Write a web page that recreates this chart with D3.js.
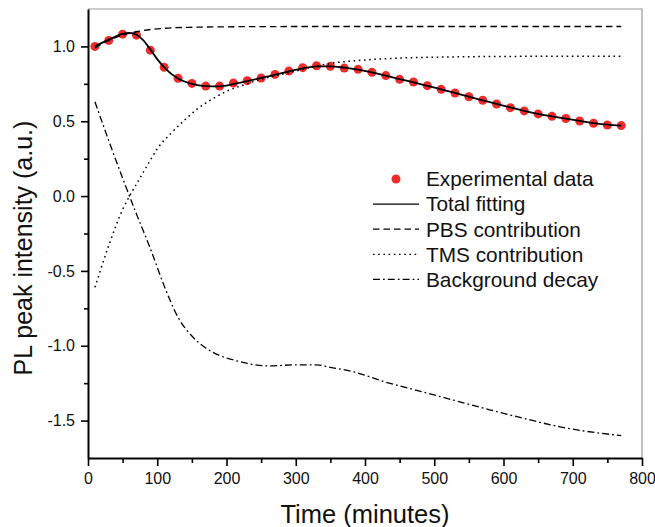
<!DOCTYPE html>
<html>
<head>
<meta charset="utf-8">
<script src="https://cdn.jsdelivr.net/npm/d3@7"></script>
<style>
  html, body { margin: 0; padding: 0; background: #fff; }
  svg { display: block; font-family: "Liberation Sans", Arial, sans-serif; }
</style>
</head>
<body>
<svg id="chart" width="655" height="527"></svg>
<script>
// experimental points
const expTime = [10, 30, 50, 70, 90, 110, 130, 150, 170, 190, 210, 230, 250, 270, 290, 310, 330, 350, 370, 390,
                 410, 430, 450, 470, 490, 510, 530, 550, 570, 590, 610, 630, 650, 670, 690, 710, 730, 750, 770];
const expIntensity = [1.00, 1.04, 1.082, 1.075, 0.975, 0.86, 0.787, 0.753, 0.735, 0.735, 0.755, 0.771, 0.789, 0.813,
                      0.835, 0.858, 0.871, 0.867, 0.855, 0.847, 0.827, 0.805, 0.78, 0.762, 0.738, 0.713, 0.689, 0.664,
                      0.64, 0.615, 0.591, 0.569, 0.549, 0.533, 0.518, 0.502, 0.487, 0.475, 0.471];

// total fitting
const fitTime = [10, 30, 50, 60, 70, 80, 90, 100, 110, 130, 150, 170, 190, 210, 230, 250, 270, 290, 310, 330, 350, 370,
                 390, 410, 430, 450, 470, 490, 510, 530, 550, 570, 590, 610, 630, 650, 670, 690, 710, 730, 750, 770];
const fitValues = [1.0, 1.045, 1.083, 1.09, 1.078, 1.04, 0.98, 0.915, 0.86, 0.785, 0.75, 0.735, 0.733, 0.748, 0.768,
                   0.789, 0.811, 0.833, 0.853, 0.866, 0.867, 0.858, 0.845, 0.827, 0.805, 0.782, 0.76, 0.737, 0.713,
                   0.689, 0.664, 0.64, 0.616, 0.592, 0.57, 0.55, 0.533, 0.517, 0.502, 0.488, 0.477, 0.471];

// PBS contribution
const pbsTime = [10, 30, 50, 70, 90, 110, 150, 200, 300, 770];
const pbsValues = [0.99, 1.04, 1.075, 1.098, 1.113, 1.121, 1.128, 1.131, 1.133, 1.133];

// TMS contribution
const tmsTime = [10, 30, 50, 60, 70, 80, 90, 100, 120, 140, 160, 180, 200, 220, 250, 300, 335, 360, 380, 430, 530, 650, 770];
const tmsValues = [-0.61, -0.33, -0.09, 0.0, 0.08, 0.16, 0.24, 0.315, 0.42, 0.51, 0.59, 0.65, 0.70, 0.735, 0.78,
                   0.835, 0.873, 0.893, 0.902, 0.918, 0.93, 0.934, 0.935];

// background decay
const bgTime = [10, 30, 50, 70, 90, 110, 130, 150, 170, 190, 210, 230, 260, 300, 330, 350, 380, 430, 480, 530, 580,
                630, 680, 720, 770];
const bgValues = [0.63, 0.37, 0.12, -0.12, -0.35, -0.6, -0.81, -0.935, -1.015, -1.065, -1.095, -1.118, -1.135, -1.128,
                  -1.128, -1.145, -1.17, -1.243, -1.305, -1.366, -1.428, -1.486, -1.54, -1.572, -1.6];

const xMajor = [0, 100, 200, 300, 400, 500, 600, 700, 800];
const xMinor = [50, 150, 250, 350, 450, 550, 650, 750];
const yMajor = [-1.5, -1.0, -0.5, 0.0, 0.5, 1.0];
const yMinor = [-1.25, -0.75, -0.25, 0.25, 0.75];

const legendLabels = ['Experimental data', 'Total fitting', 'PBS contribution', 'TMS contribution', 'Background decay'];
const lineDash = [null, null, '6.5,4', '1.6,3.6', '7,3,1.8,3'];

const svg = d3.select('#chart');
const margin = { top: 9, right: 13, bottom: 69, left: 88 };
const W = 655, H = 527;

const x = d3.scaleLinear().domain([0, 800]).range([margin.left, W - margin.right]);
const y = d3.scaleLinear().domain([-1.75, 1.25]).range([H - margin.bottom, margin.top]);

const fmt = v => d3.format('.1f')(v).replace('\u2212', '-');

// grey frame on top / right
svg.append('path')
    .attr('d', `M${x(0)},${y(1.25)}H${x(800)}V${y(-1.75)}`)
    .attr('fill', 'none')
    .attr('stroke', '#999')
    .attr('stroke-width', 1.2);

// axes
const gx = svg.append('g').attr('transform', `translate(0,${y(-1.75)})`);
gx.call(d3.axisBottom(x).tickValues(xMajor).tickFormat(d3.format('d')).tickSize(8).tickPadding(7).tickSizeOuter(0));
gx.append('g').call(d3.axisBottom(x).tickValues(xMinor).tickFormat('').tickSize(5).tickSizeOuter(0))
    .select('.domain').remove();

const gy = svg.append('g').attr('transform', `translate(${x(0)},0)`);
gy.call(d3.axisLeft(y).tickValues(yMajor).tickFormat(fmt).tickSize(7).tickPadding(6).tickSizeOuter(0));
gy.append('g').call(d3.axisLeft(y).tickValues(yMinor).tickFormat('').tickSize(4).tickSizeOuter(0))
    .select('.domain').remove();

svg.selectAll('.domain').attr('stroke', '#000').attr('stroke-width', 2);
svg.selectAll('.tick line').attr('stroke', '#000').attr('stroke-width', 1.6);
svg.selectAll('.tick text').attr('font-size', 16).attr('fill', '#111').attr('font-family', '"Liberation Sans", Arial, sans-serif');

// axis titles
svg.append('text')
    .attr('x', 365).attr('y', 523)
    .attr('text-anchor', 'middle')
    .attr('font-size', 25.5)
    .attr('fill', '#111')
    .text('Time (minutes)');

svg.append('text')
    .attr('transform', 'translate(32,248) rotate(-90)')
    .attr('text-anchor', 'middle')
    .attr('font-size', 25)
    .attr('fill', '#111')
    .text('PL peak intensity (a.u.)');

// experimental dots go under the curves
svg.append('g').selectAll('circle')
    .data(expTime.map((t, i) => [t, expIntensity[i]]))
    .join('circle')
    .attr('cx', d => x(d[0]))
    .attr('cy', d => y(d[1]))
    .attr('r', 4.5)
    .attr('fill', '#ee2b2b');

const line = d3.line()
    .x(d => x(d[0]))
    .y(d => y(d[1]))
    .curve(d3.curveMonotoneX);

const series = [
    { t: pbsTime, v: pbsValues, dash: lineDash[2], w: 1.3 },
    { t: tmsTime, v: tmsValues, dash: lineDash[3], w: 1.5 },
    { t: bgTime,  v: bgValues,  dash: lineDash[4], w: 1.3 },
    { t: fitTime, v: fitValues, dash: null,        w: 1.8 },
];

svg.append('g').selectAll('path')
    .data(series)
    .join('path')
    .attr('d', s => line(s.t.map((t, i) => [t, s.v[i]])))
    .attr('fill', 'none')
    .attr('stroke', '#000')
    .attr('stroke-width', s => s.w)
    .attr('stroke-dasharray', s => s.dash);

// legend
const legend = svg.append('g').attr('transform', 'translate(373,179)');
const row = legend.selectAll('g')
    .data(legendLabels)
    .join('g')
    .attr('transform', (d, i) => `translate(0,${i * 25.1})`);

row.filter((d, i) => i === 0)
    .append('circle')
    .attr('cx', 23).attr('cy', 0).attr('r', 4.5)
    .attr('fill', '#ee2b2b');

row.filter((d, i) => i > 0)
    .append('line')
    .attr('x1', 0).attr('x2', 46)
    .attr('y1', 0).attr('y2', 0)
    .attr('stroke', '#000')
    .attr('stroke-width', 1.3)
    .attr('stroke-dasharray', d => lineDash[legendLabels.indexOf(d)]);

row.append('text')
    .attr('x', 53).attr('y', 7.3)
    .attr('font-size', 20.8)
    .attr('fill', '#111')
    .text(d => d);
</script>
</body>
</html>
